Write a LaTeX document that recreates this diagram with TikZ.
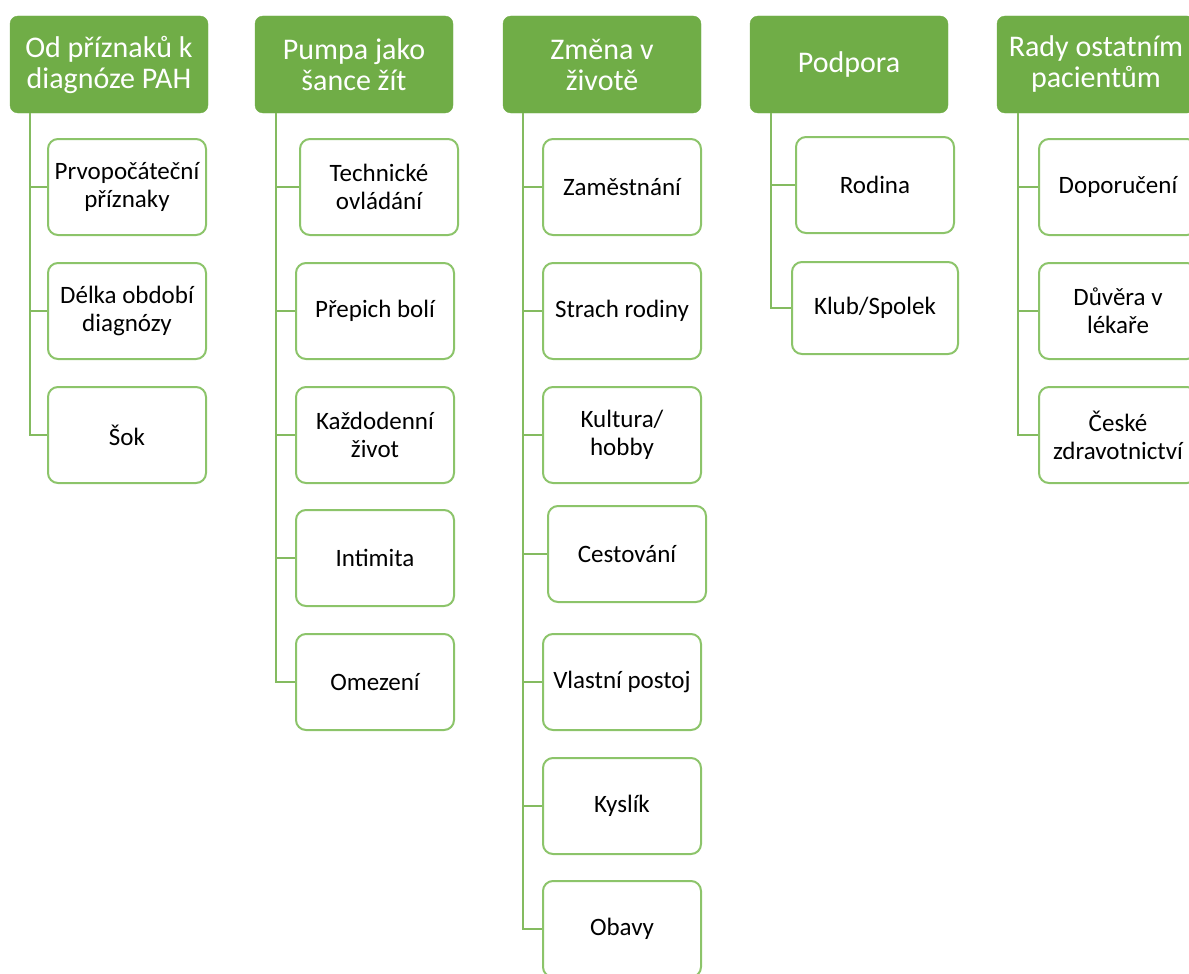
\documentclass[tikz,border=0pt]{standalone}
\usepackage{fontspec}
\setmainfont{Carlito}
\definecolor{headgreen}{HTML}{70AD47}
\definecolor{boxgreen}{HTML}{8CC46A}
\definecolor{linkgreen}{HTML}{84BB60}
\def\headY{64.5}
\def\trunkY{113}

\begin{document}
\begin{tikzpicture}[
    x=1pt,y=-1pt,
    header/.style={
      draw=headgreen,fill=headgreen,rounded corners=8pt,
      minimum width=198pt,minimum height=97pt,inner sep=0pt,
      align=center,text=white,font=\fontsize{30}{31}\selectfont
    },
    leaf/.style={
      draw=boxgreen,line width=2pt,fill=white,rounded corners=10pt,
      minimum width=158pt,minimum height=96pt,inner sep=0pt,
      align=center,font=\fontsize{25}{28}\selectfont
    },
    link/.style={
      draw=linkgreen,line width=1.8pt
    }
  ]
    \useasboundingbox (0,0) rectangle (1189,974);
    \clip (0,0) rectangle (1189,974);

    % headers
    \node[header] (HeadA) at (109,\headY)  {Od příznaků k\\diagnóze PAH};
    \node[header] (HeadB) at (354,\headY)  {Pumpa jako\\šance žít};
    \node[header] (HeadC) at (602,\headY)  {Změna v\\životě};
    \node[header] (HeadD) at (849,\headY)  {Podpora};
    \node[header] (HeadE) at (1096,\headY) {Rady ostatním\\pacientům};

    % trunks
    \coordinate (TrunkA) at (30,\trunkY);
    \coordinate (TrunkB) at (276,\trunkY);
    \coordinate (TrunkC) at (523,\trunkY);
    \coordinate (TrunkD) at (771,\trunkY);
    \coordinate (TrunkE) at (1018,\trunkY);

    % first column
    \node[leaf] (LeafA1) at (127,187) {Prvopočáteční\\příznaky};
    \node[leaf] (LeafA2) at (127,311) {Délka období\\diagnózy};
    \node[leaf] (LeafA3) at (127,435) {Šok};

    % second column
    \node[leaf] (LeafB1) at (379,187) {Technické\\ovládání};
    \node[leaf] (LeafB2) at (375,311) {Přepich bolí};
    \node[leaf] (LeafB3) at (375,435) {Každodenní\\život};
    \node[leaf] (LeafB4) at (375,558) {Intimita};
    \node[leaf] (LeafB5) at (375,682) {Omezení};

    % third column
    \node[leaf] (LeafC1) at (622,187) {Zaměstnání};
    \node[leaf] (LeafC2) at (622,311) {Strach rodiny};
    \node[leaf] (LeafC3) at (622,435) {Kultura/\\hobby};
    \node[leaf] (LeafC4) at (627,554) {Cestování};
    \node[leaf] (LeafC5) at (622,682) {Vlastní postoj};
    \node[leaf] (LeafC6) at (622,806) {Kyslík};
    \node[leaf] (LeafC7) at (622,929) {Obavy};

    % fourth column
    \node[leaf] (LeafD1) at (875,185) {Rodina};
    \node[leaf,minimum width=166pt,minimum height=92pt] (LeafD2) at (875,308) {Klub/Spolek};

    % fifth column
    \node[leaf] (LeafE1) at (1118,187) {Doporučení};
    \node[leaf] (LeafE2) at (1118,311) {Důvěra v\\lékaře};
    \node[leaf] (LeafE3) at (1118,435) {České\\zdravotnictví};

    % links
    \foreach \leaf in {A1,A2,A3}
      \draw[link] (TrunkA) |- (Leaf\leaf.west);
    \foreach \leaf in {B1,B2,B3,B4,B5}
      \draw[link] (TrunkB) |- (Leaf\leaf.west);
    \foreach \leaf in {C1,C2,C3,C4,C5,C6,C7}
      \draw[link] (TrunkC) |- (Leaf\leaf.west);
    \foreach \leaf in {D1,D2}
      \draw[link] (TrunkD) |- (Leaf\leaf.west);
    \foreach \leaf in {E1,E2,E3}
      \draw[link] (TrunkE) |- (Leaf\leaf.west);
  \end{tikzpicture}
\end{document}
